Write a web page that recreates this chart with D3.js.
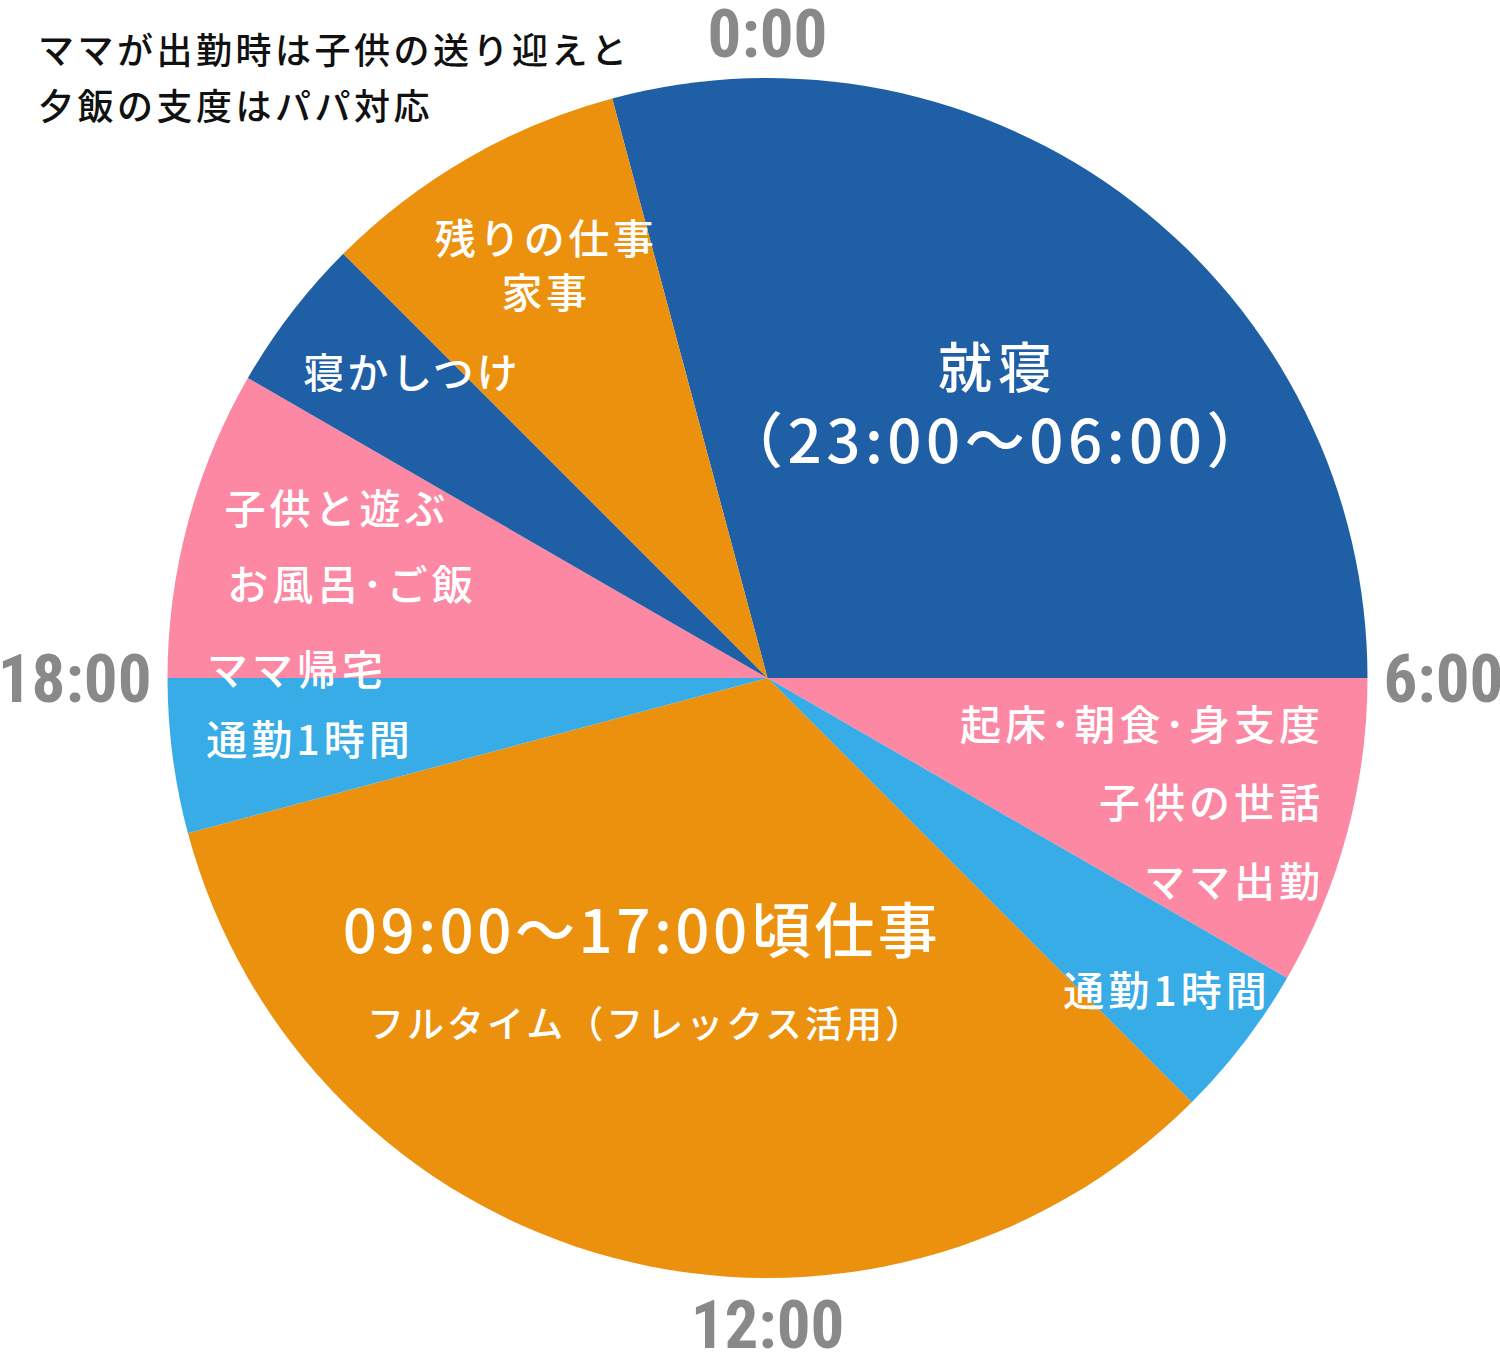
<!DOCTYPE html>
<html>
<head>
<meta charset="utf-8">
<script src="https://cdn.jsdelivr.net/npm/d3@7"></script>
<style>
  body{margin:0;background:#fff;}
  svg{display:block;}
</style>
</head>
<body>
<svg id="chart"></svg>
<script>
// slices clockwise from 23:00
const activities = ["就寝","朝の支度","通勤（朝）","仕事","通勤（夕）","夕方","寝かしつけ","残りの仕事・家事"]
const hours = [7,2,1,8,1,2,1,2]
const kinds = ["sleep","home","commute","work","commute","home","sleep","work"]
const startHour = 23
const hourTicks = [0,6,12,18]
const hourTickLabels = ["0:00","6:00","12:00","18:00"]
const note = ["ママが出勤時は子供の送り迎えと","夕飯の支度はパパ対応"]

const colors = {sleep:"#1f5fa5",home:"#fd88a4",commute:"#38ace6",work:"#ec910e"}

// text placed in each slice
const labels = [
    {t:"就寝",x:998,y:388,s:54,ls:6,a:"middle"},
    {t:"（23:00〜06:00）",x:997,y:463,s:60,ls:4.5,a:"middle"},
    {t:"起床･朝食･身支度",x:1324,y:740,s:41,ls:4,a:"end"},
    {t:"子供の世話",x:1324,y:818,s:41,ls:4,a:"end"},
    {t:"ママ出勤",x:1324,y:897,s:41,ls:4,a:"end"},
    {t:"通勤1時間",x:1167,y:1006,s:41,ls:4,a:"middle"},
    {t:"09:00〜17:00頃仕事",x:642,y:953,s:60,ls:3.5,a:"middle"},
    {t:"フルタイム（フレックス活用）",x:646,y:1038,s:37,ls:3,a:"middle"},
    {t:"通勤1時間",x:310,y:755,s:41,ls:4,a:"middle"},
    {t:"ママ帰宅",x:297,y:685,s:41,ls:4,a:"middle"},
    {t:"お風呂･ご飯",x:352,y:600,s:41,ls:4,a:"middle"},
    {t:"子供と遊ぶ",x:337,y:524,s:41,ls:4,a:"middle"},
    {t:"寝かしつけ",x:412,y:388,s:41,ls:3,a:"middle"},
    {t:"残りの仕事",x:546,y:254,s:41,ls:3.5,a:"middle"},
    {t:"家事",x:546,y:308,s:41,ls:3.5,a:"middle"}
]

const width = 1500, height = 1355
const cx = 767.5, cy = 678, r = 600

const svg = d3.select("#chart")
    .attr("width",width)
    .attr("height",height)

const data = activities.map((d,i)=>({name:d,hours:hours[i],kind:kinds[i]}))

const start = startHour/24*2*Math.PI - 2*Math.PI
const pie = d3.pie()
    .sort(null)
    .value(d=>d.hours)
    .startAngle(start)
    .endAngle(start+2*Math.PI)

const arc = d3.arc().innerRadius(0).outerRadius(r)

const g = svg.append("g")
    .attr("transform",`translate(${cx},${cy})`)

g.selectAll("path")
    .data(pie(data))
    .join("path")
    .attr("d",arc)
    .attr("fill",d=>colors[d.data.kind])

// hour labels round the clock
const angle = d3.scaleLinear().domain([0,24]).range([0,2*Math.PI])
const tickFont = "'Liberation Sans Narrow','Roboto Condensed','Liberation Sans',sans-serif"
g.selectAll("text.tick")
    .data(hourTicks)
    .join("text")
    .attr("class","tick")
    .attr("x",d=>Math.sin(angle(d))*(r+16))
    .attr("y",d=>-Math.cos(angle(d))*(r+16))
    .attr("text-anchor",d=>d==6?"start":d==18?"end":"middle")
    .attr("dy",d=>d==0?"-0.08em":d==12?"0.8em":"0.36em")
    .attr("font-family",tickFont)
    .attr("font-weight","bold")
    .attr("font-size",67)
    .attr("fill","#898989")
    .text((d,i)=>hourTickLabels[i])

const jp = "'Noto Sans CJK JP','Noto Sans',sans-serif"
svg.selectAll("text.lbl")
    .data(labels)
    .join("text")
    .attr("class","lbl")
    .attr("x",d=>d.x)
    .attr("y",d=>d.y)
    .attr("text-anchor",d=>d.a)
    .attr("font-family",jp)
    .attr("font-weight",500)
    .attr("font-size",d=>d.s)
    .attr("letter-spacing",d=>d.ls)
    .attr("fill","#fff")
    .text(d=>d.t)

svg.selectAll("text.note")
    .data(note)
    .join("text")
    .attr("class","note")
    .attr("x",38)
    .attr("y",(d,i)=>64+i*56)
    .attr("font-family",jp)
    .attr("font-weight",500)
    .attr("font-size",36)
    .attr("letter-spacing",3.5)
    .attr("fill","#111")
    .text(d=>d)
</script>
</body>
</html>
